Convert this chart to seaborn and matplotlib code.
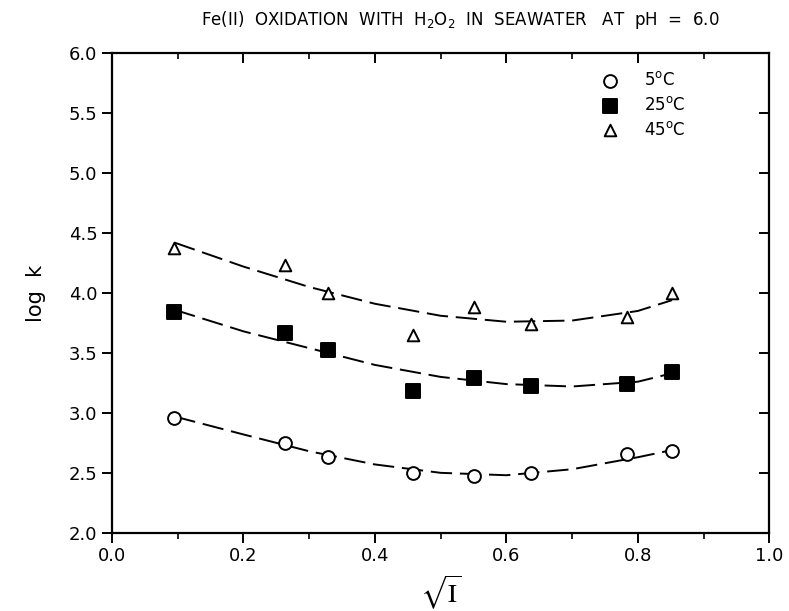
import matplotlib
matplotlib.use("Agg")
import matplotlib.pyplot as plt
import seaborn as sns
import numpy as np
import pandas as pd
from matplotlib.ticker import MultipleLocator, FormatStrFormatter

# sqrt(I) positions of the measurements
sqrt_i = [0.095, 0.263, 0.329, 0.458, 0.551, 0.638, 0.784, 0.852]

logk_5 = [2.96, 2.75, 2.63, 2.50, 2.47, 2.50, 2.66, 2.68]
logk_25 = [3.84, 3.67, 3.525, 3.18, 3.29, 3.225, 3.24, 3.34]
logk_45 = [4.375, 4.233, 4.00, 3.65, 3.883, 3.74, 3.80, 4.00]

# dashed fit curves
fit_x = [0.095, 0.2, 0.3, 0.4, 0.5, 0.6, 0.7, 0.8, 0.852]
fit_5 = [2.97, 2.82, 2.68, 2.57, 2.50, 2.48, 2.53, 2.63, 2.69]
fit_25 = [3.86, 3.68, 3.54, 3.40, 3.30, 3.24, 3.22, 3.26, 3.33]
fit_45 = [4.42, 4.22, 4.05, 3.91, 3.81, 3.76, 3.77, 3.85, 3.94]

labels = ["5$^{\\mathrm{o}}$C", "25$^{\\mathrm{o}}$C", "45$^{\\mathrm{o}}$C"]

pts = pd.DataFrame({
    "x": sqrt_i * 3,
    "logk": logk_5 + logk_25 + logk_45,
    "temp": [labels[0]] * 8 + [labels[1]] * 8 + [labels[2]] * 8,
})
fits = pd.DataFrame({
    "x": fit_x * 3,
    "logk": fit_5 + fit_25 + fit_45,
    "temp": [labels[0]] * 9 + [labels[1]] * 9 + [labels[2]] * 9,
})

sns.set_style("ticks")
plt.rcParams["font.family"] = ["DejaVu Sans"]
plt.rcParams["text.color"] = "black"
plt.rcParams["axes.labelcolor"] = "black"
plt.rcParams["xtick.color"] = "black"
plt.rcParams["ytick.color"] = "black"

fig = plt.figure(figsize=(7.89, 6.11), dpi=100)
ax = fig.add_axes([0.142, 0.128, 0.833, 0.785])

for t in labels:
    sub = fits[fits["temp"] == t]
    sns.lineplot(data=sub, x="x", y="logk", color="black", linewidth=1.4,
                 linestyle=(0, (11, 4)), ax=ax, legend=False, sort=True)

styles = {labels[0]: ("o", "white", 85), labels[1]: ("s", "black", 95),
          labels[2]: ("^", "white", 70)}
for t in labels:
    m, fc, s = styles[t]
    sub = pts[pts["temp"] == t]
    sns.scatterplot(data=sub, x="x", y="logk", marker=m, color=fc,
                    edgecolor="black", linewidth=1.4, s=s, ax=ax,
                    label=t, zorder=3)

ax.set_xlim(0.0, 1.0)
ax.set_ylim(2.0, 6.0)
ax.xaxis.set_major_locator(MultipleLocator(0.2))
ax.xaxis.set_minor_locator(MultipleLocator(0.1))
ax.yaxis.set_major_locator(MultipleLocator(0.5))
ax.xaxis.set_major_formatter(FormatStrFormatter("%.1f"))
ax.yaxis.set_major_formatter(FormatStrFormatter("%.1f"))

for sp in ax.spines.values():
    sp.set_linewidth(1.6)
    sp.set_color("black")

ax.tick_params(axis="both", which="major", labelsize=13, width=1.4,
               length=7, direction="out", color="black")
ax.tick_params(axis="x", which="minor", width=1.2, length=4, direction="out")

# inward ticks on the top and right frame
tax = ax.secondary_xaxis("top")
tax.xaxis.set_major_locator(MultipleLocator(0.2))
tax.xaxis.set_minor_locator(MultipleLocator(0.1))
tax.tick_params(which="major", direction="in", length=7, width=1.4, labeltop=False)
tax.tick_params(which="minor", direction="in", length=4, width=1.2)
tax.spines["top"].set_visible(False)
rax = ax.secondary_yaxis("right")
rax.yaxis.set_major_locator(MultipleLocator(0.5))
rax.tick_params(which="major", direction="in", length=7, width=1.4, labelright=False)
rax.spines["right"].set_visible(False)

ax.set_xlabel(r"$\sqrt{\mathrm{I}}$", fontsize=19, math_fontfamily="stix", labelpad=6)
ax.set_ylabel("log  k", fontsize=15, labelpad=16)
ax.set_title("Fe(II)  OXIDATION  WITH  H$_2$O$_2$  IN  SEAWATER   AT  pH  =  6.0",
             fontsize=12, pad=20, x=0.53)

ax.legend(loc="upper right", bbox_to_anchor=(0.9, 1.0), frameon=False,
          fontsize=12, handletextpad=1.2, labelspacing=0.4, borderpad=0.6,
          handlelength=1.6)

fig.savefig("out.png", dpi=100)
